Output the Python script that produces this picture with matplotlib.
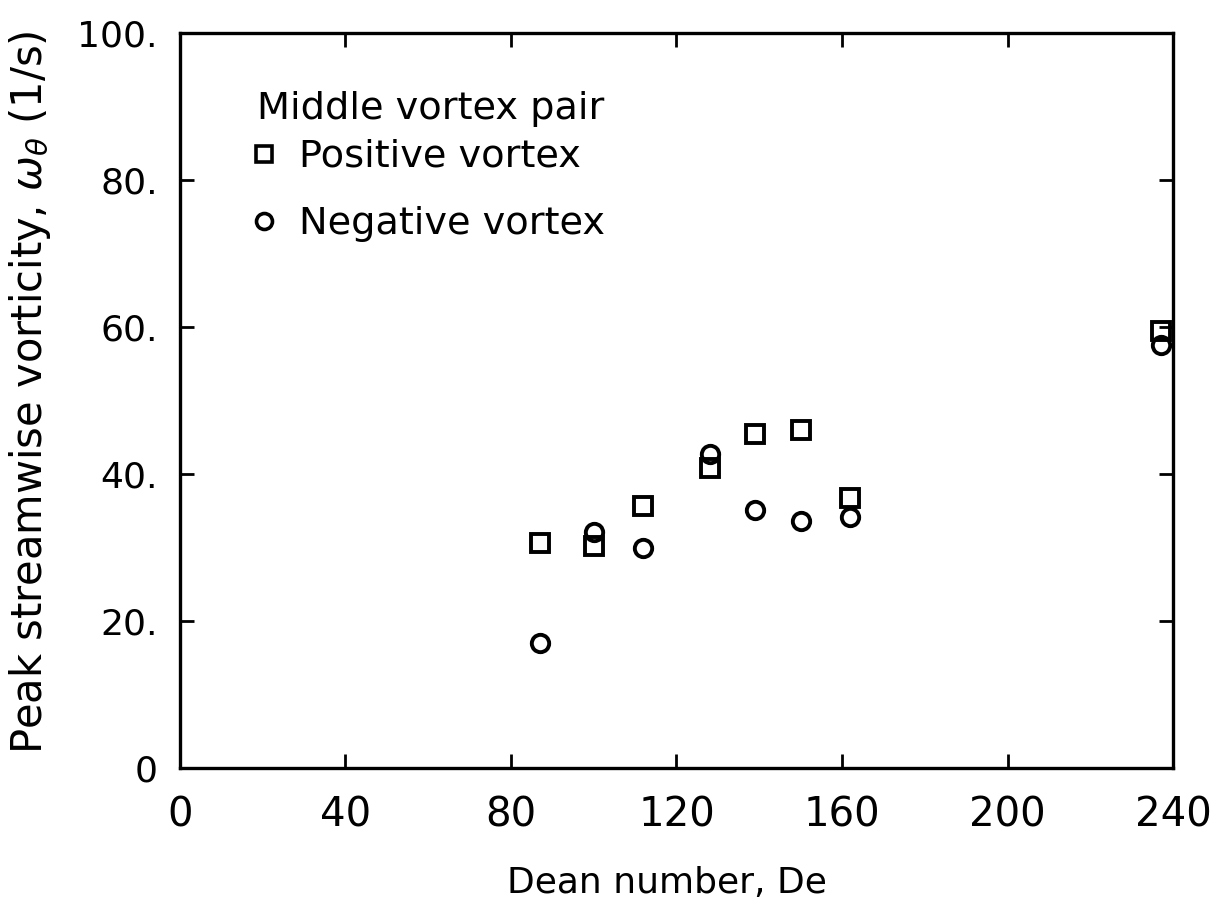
import matplotlib.pyplot as plt
from matplotlib.lines import Line2D

# Peak streamwise vorticity of the middle vortex pair vs Dean number
dean_pos = [87, 100, 112, 128, 139, 150, 162, 237]
omega_pos = [30.6, 30.2, 35.6, 40.8, 45.5, 46.0, 36.8, 59.5]

dean_neg = [87, 100, 112, 128, 139, 150, 162, 237]
omega_neg = [17.0, 32.1, 29.9, 42.7, 35.1, 33.6, 34.2, 57.6]

x_ticks = [0, 40, 80, 120, 160, 200, 240]
x_ticklabels = ['0', '40', '80', '120', '160', '200', '240']
y_ticks = [0, 20, 40, 60, 80, 100]
y_ticklabels = ['0', '20.', '40.', '60.', '80.', '100.']

plt.rcParams['font.family'] = 'DejaVu Sans'
plt.rcParams['mathtext.fontset'] = 'dejavusans'

fig = plt.figure(figsize=(12.2, 9.18), dpi=100)
ax = fig.add_axes([0.1475, 0.1634, 0.814, 0.8006])

mk = dict(linestyle='none', markerfacecolor='none', markeredgecolor='black',
          markeredgewidth=2.8, markersize=12.5, clip_on=False)
ax.plot(dean_pos, omega_pos, marker='s', **mk)
ax.plot(dean_neg, omega_neg, marker='o', **mk)

ax.set_xlim(0, 240)
ax.set_ylim(0, 100)
ax.set_xticks(x_ticks)
ax.set_xticklabels(x_ticklabels)
ax.set_yticks(y_ticks)
ax.set_yticklabels(y_ticklabels)

ax.tick_params(axis='both', direction='in', length=10, width=2,
               top=True, right=True)
ax.tick_params(axis='x', pad=20, labelsize=29)
ax.tick_params(axis='y', pad=16, labelsize=26)
for s in ax.spines.values():
    s.set_linewidth(2.4)

ax.set_xlabel('Dean number, De', fontsize=26)
ax.xaxis.set_label_coords(0.49, -0.133)
ax.set_ylabel(r'Peak streamwise vorticity, $\omega_\theta$ (1/s)', fontsize=30)
ax.yaxis.set_label_coords(-0.128, 0.512)

# key: heading text plus a frameless legend below it
ax.text(0.0775, 0.883, 'Middle vortex pair', transform=ax.transAxes,
        fontsize=27.5, ha='left', va='baseline')
handles = [
    Line2D([], [], marker='s', linestyle='none', markerfacecolor='none',
           markeredgecolor='black', markeredgewidth=2.6, markersize=11.5),
    Line2D([], [], marker='o', linestyle='none', markerfacecolor='none',
           markeredgecolor='black', markeredgewidth=2.6, markersize=11.5),
]
ax.legend(handles, ['Positive vortex', 'Negative vortex'], loc='upper left',
          bbox_to_anchor=(0.0695, 0.856), frameon=False, fontsize=27.5,
          handlelength=0.8, handletextpad=0.5, labelspacing=0.82,
          borderaxespad=0, borderpad=0)

fig.savefig('out.png', dpi=100)
plt.close(fig)
